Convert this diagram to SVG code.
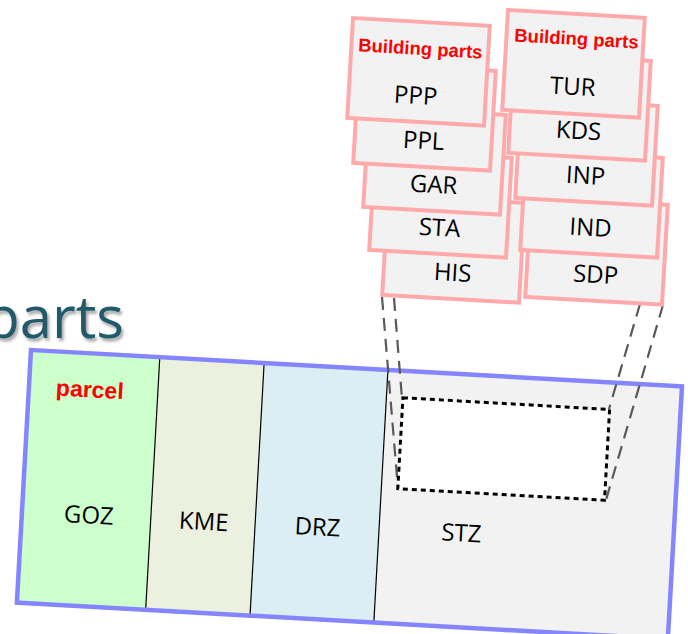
<svg xmlns="http://www.w3.org/2000/svg" width="688" height="634" viewBox="0 0 688 634">
<defs>
<style>
.lbl{font-family:"Open Sans","Noto Sans",sans-serif;font-size:24px;fill:#000;text-anchor:middle}
.red{font-family:"Liberation Sans",Arial,sans-serif;font-weight:bold;fill:#ff0000;text-anchor:middle}
.card{fill:#f2f2f2;stroke:#ffaaaa;stroke-width:4}
.div{stroke:#000;stroke-width:1.2}
.conn{fill:none;stroke:#595959;stroke-width:2.2;stroke-dasharray:13 8}
</style>
<filter id="sh" x="-10%" y="-10%" width="130%" height="140%">
<feDropShadow dx="2" dy="3" stdDeviation="1.5" flood-color="#000" flood-opacity="0.35"/>
</filter>
</defs>
<rect width="688" height="634" fill="#ffffff"/>
<g id="title">
<text x="124" y="338" font-family="'Open Sans','Noto Sans',sans-serif" font-size="58" fill="#215a6a" text-anchor="end" filter="url(#sh)">parts</text>
</g>
<g id="parcel" transform="translate(31,350) rotate(3.2)">
<g id="GOZ"><rect x="0" y="0" width="129" height="253" fill="#ccffcc"/><text class="red" x="61" y="44" font-size="23">parcel</text><text class="lbl" x="67" y="170">GOZ</text></g>
<g id="KME"><rect x="129" y="0" width="104.5" height="253" fill="#ebf1de"/><text class="lbl" x="182" y="170">KME</text></g>
<g id="DRZ"><rect x="233.5" y="0" width="124" height="253" fill="#daeef3"/><text class="lbl" x="296" y="169">DRZ</text></g>
<g id="STZ"><rect x="357.5" y="0" width="294.5" height="253" fill="#f2f2f2"/><text class="lbl" x="440" y="167">STZ</text></g>
<line class="div" x1="129" y1="0" x2="129" y2="253"/>
<line class="div" x1="233.5" y1="0" x2="233.5" y2="253"/>
<line class="div" x1="357.5" y1="0" x2="357.5" y2="253"/>
<rect x="0" y="0" width="652" height="253" fill="none" stroke="#8585ff" stroke-width="4.5"/>
</g>
<g id="connectors">
<line class="conn" x1="382" y1="297" x2="398" y2="489"/>
<line class="conn" x1="394" y1="298" x2="402" y2="399"/>
<line class="conn" x1="640" y1="304" x2="609" y2="409"/>
<line class="conn" x1="663" y1="305" x2="606" y2="500"/>
</g>
<g id="footprint" transform="translate(31,350) rotate(3.2)">
<rect x="374" y="27" width="207" height="91" fill="#ffffff" stroke="#000" stroke-width="3" stroke-dasharray="5 4"/>
</g>
<g id="HIS" transform="translate(388,195) rotate(3.3)"><rect class="card" x="0" y="0" width="137" height="100"/><text class="lbl" x="69" y="82">HIS</text></g>
<g id="STA" transform="translate(375,150) rotate(3.3)"><rect class="card" x="0" y="0" width="137" height="100"/><text class="lbl" x="69" y="82">STA</text></g>
<g id="GAR" transform="translate(369,107) rotate(3.3)"><rect class="card" x="0" y="0" width="137" height="100"/><text class="lbl" x="69" y="82">GAR</text></g>
<g id="PPL" transform="translate(359,63) rotate(3.3)"><rect class="card" x="0" y="0" width="137" height="100"/><text class="lbl" x="69" y="82">PPL</text></g>
<g id="PPP" transform="translate(353,18) rotate(3.3)"><rect class="card" x="0" y="0" width="137" height="100"/><text class="red" x="69" y="33" font-size="18.5">Building parts</text><text class="lbl" x="67" y="82">PPP</text></g>
<g id="SDP" transform="translate(531,197) rotate(3.3)"><rect class="card" x="0" y="0" width="137" height="100"/><text class="lbl" x="69" y="82">SDP</text></g>
<g id="IND" transform="translate(526,150) rotate(3.3)"><rect class="card" x="0" y="0" width="137" height="100"/><text class="lbl" x="69" y="82">IND</text></g>
<g id="INP" transform="translate(521,98) rotate(3.3)"><rect class="card" x="0" y="0" width="137" height="100"/><text class="lbl" x="69" y="82">INP</text></g>
<g id="KDS" transform="translate(514,53) rotate(3.3)"><rect class="card" x="0" y="0" width="137" height="100"/><text class="lbl" x="69" y="82">KDS</text></g>
<g id="TUR" transform="translate(508,10) rotate(3.3)"><rect class="card" x="0" y="0" width="137" height="100"/><text class="red" x="70" y="31" font-size="18.5">Building parts</text><text class="lbl" x="69" y="81">TUR</text></g>
</svg>
